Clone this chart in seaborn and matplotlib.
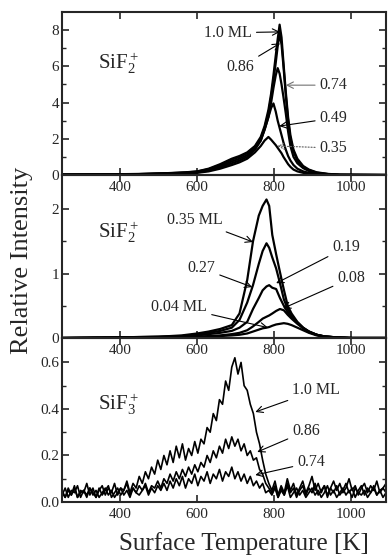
import numpy as np
import matplotlib
matplotlib.use('Agg')
import matplotlib.pyplot as plt
import seaborn as sns

# --- panel 1: SiF2+ , high coverages ---
t1 = [250, 350, 450, 520, 570, 600, 630, 660, 690, 710, 730, 750, 765, 775, 785, 792,
      798, 804, 809, 814, 819, 824, 830, 836, 842, 850, 860, 875, 890, 910, 940, 970, 1090]
p1_100 = [0.02, 0.03, 0.06, 0.10, 0.15, 0.20, 0.35, 0.60, 0.90, 1.05, 1.25, 1.60, 2.10, 2.70, 3.60, 4.50,
          5.50, 6.60, 7.50, 8.30, 7.60, 6.20, 4.60, 3.20, 2.20, 1.40, 0.90, 0.50, 0.30, 0.15, 0.06, 0.02, 0.0]
p1_086 = [0.02, 0.03, 0.05, 0.09, 0.14, 0.19, 0.32, 0.55, 0.85, 1.00, 1.20, 1.55, 2.00, 2.60, 3.40, 4.30,
          5.20, 6.20, 7.10, 7.80, 7.20, 6.00, 4.40, 3.00, 2.00, 1.30, 0.80, 0.45, 0.27, 0.13, 0.05, 0.02, 0.0]
p1_074 = [0.02, 0.03, 0.05, 0.08, 0.12, 0.17, 0.28, 0.48, 0.75, 0.90, 1.10, 1.45, 1.90, 2.50, 3.20, 4.00,
          4.80, 5.50, 5.90, 5.60, 5.00, 4.30, 3.40, 2.40, 1.60, 1.00, 0.65, 0.38, 0.22, 0.10, 0.04, 0.01, 0.0]
p1_049 = [0.02, 0.03, 0.04, 0.07, 0.10, 0.14, 0.24, 0.42, 0.65, 0.80, 1.00, 1.40, 1.90, 2.50, 3.20, 3.70,
          3.95, 3.50, 3.00, 2.60, 2.20, 1.80, 1.40, 1.05, 0.80, 0.55, 0.35, 0.20, 0.12, 0.06, 0.02, 0.0, 0.0]
p1_035 = [0.02, 0.03, 0.04, 0.06, 0.09, 0.12, 0.20, 0.35, 0.55, 0.70, 0.90, 1.25, 1.60, 1.90, 2.10, 1.95,
          1.80, 1.65, 1.50, 1.35, 1.20, 1.00, 0.80, 0.60, 0.45, 0.30, 0.20, 0.12, 0.07, 0.03, 0.01, 0.0, 0.0]

# --- panel 2: SiF2+ , low coverages ---
t2 = [250, 400, 500, 560, 600, 630, 660, 690, 710, 730, 745, 760, 770, 780, 787,
      795, 805, 815, 825, 835, 845, 860, 875, 890, 910, 930, 960, 1000, 1090]
p2_035 = [0.0, 0.01, 0.02, 0.04, 0.07, 0.10, 0.14, 0.20, 0.38, 0.90, 1.50, 1.90, 2.05, 2.15, 2.05,
          1.60, 1.30, 1.02, 0.75, 0.50, 0.38, 0.25, 0.16, 0.10, 0.05, 0.025, 0.01, 0.0, 0.0]
p2_027 = [0.0, 0.01, 0.02, 0.03, 0.05, 0.08, 0.11, 0.16, 0.28, 0.55, 0.82, 1.15, 1.35, 1.47, 1.40,
          1.25, 1.08, 0.85, 0.60, 0.45, 0.35, 0.24, 0.15, 0.09, 0.05, 0.02, 0.01, 0.0, 0.0]
p2_019 = [0.0, 0.01, 0.015, 0.02, 0.04, 0.06, 0.08, 0.11, 0.16, 0.25, 0.45, 0.62, 0.74, 0.80, 0.82,
          0.78, 0.76, 0.62, 0.50, 0.40, 0.32, 0.24, 0.16, 0.10, 0.05, 0.025, 0.01, 0.0, 0.0]
p2_008 = [0.0, 0.005, 0.01, 0.015, 0.02, 0.03, 0.04, 0.06, 0.08, 0.12, 0.18, 0.25, 0.30, 0.33, 0.35,
          0.38, 0.42, 0.45, 0.43, 0.36, 0.30, 0.22, 0.15, 0.10, 0.05, 0.025, 0.01, 0.0, 0.0]
p2_004 = [0.0, 0.0, 0.005, 0.01, 0.015, 0.02, 0.03, 0.04, 0.05, 0.07, 0.10, 0.13, 0.15, 0.16, 0.17,
          0.19, 0.21, 0.22, 0.23, 0.22, 0.20, 0.16, 0.12, 0.08, 0.04, 0.02, 0.01, 0.0, 0.0]

# --- panel 3: SiF3+ (noisy traces, 8 K sampling) ---
t3 = np.arange(250, 1091, 8)
p3_100 = [0.05, 0.02, 0.06, 0.03, 0.07, 0.02, 0.05, 0.04, 0.08, 0.03, 0.06, 0.02, 0.05, 0.07, 0.03, 0.06,
          0.04, 0.08, 0.03, 0.06, 0.05, 0.09, 0.04,
          0.08, 0.06, 0.11, 0.08, 0.13, 0.10, 0.15, 0.12, 0.18, 0.14, 0.20, 0.16, 0.22,
          0.17, 0.24, 0.19, 0.25, 0.18, 0.23, 0.20, 0.26, 0.21, 0.27,
          0.25, 0.32, 0.30, 0.38, 0.35, 0.44, 0.42, 0.52, 0.48, 0.58, 0.62,
          0.55, 0.60, 0.50, 0.48, 0.42, 0.38, 0.30, 0.25, 0.18, 0.12, 0.08,
          0.05, 0.09, 0.03, 0.07, 0.04, 0.10, 0.05, 0.08, 0.03, 0.06, 0.09, 0.04, 0.07, 0.11, 0.05, 0.08,
          0.04, 0.07, 0.03, 0.06, 0.09, 0.05, 0.08, 0.04, 0.06, 0.10, 0.05, 0.07, 0.03, 0.06, 0.08, 0.04,
          0.07, 0.05, 0.09, 0.04, 0.06, 0.08]
p3_086 = [0.03, 0.06, 0.02, 0.05, 0.04, 0.07, 0.02, 0.05, 0.03, 0.06, 0.04, 0.02, 0.06, 0.03, 0.05, 0.07,
          0.02, 0.04, 0.06, 0.03, 0.05, 0.08, 0.03, 0.06, 0.04, 0.07, 0.05, 0.08, 0.04, 0.07, 0.06,
          0.09, 0.06, 0.10, 0.08, 0.12, 0.09, 0.13, 0.10, 0.14, 0.11, 0.15, 0.12, 0.16, 0.13, 0.17,
          0.15, 0.20, 0.17, 0.22, 0.19, 0.24, 0.21, 0.27, 0.23, 0.28, 0.24, 0.27, 0.22,
          0.25, 0.20, 0.22, 0.18, 0.19, 0.14, 0.12, 0.08, 0.06,
          0.04, 0.07, 0.02, 0.06, 0.03, 0.08, 0.04, 0.06, 0.02, 0.05, 0.07, 0.03, 0.06, 0.04, 0.08, 0.03,
          0.05, 0.07, 0.02, 0.06, 0.04, 0.07, 0.03, 0.05, 0.08, 0.04, 0.06, 0.02, 0.05, 0.07, 0.03, 0.06,
          0.04, 0.07, 0.03, 0.05, 0.06, 0.04]
p3_074 = [0.04, 0.02, 0.05, 0.03, 0.06, 0.02, 0.04, 0.05, 0.02, 0.06, 0.03, 0.05, 0.02, 0.04, 0.06, 0.03,
          0.05, 0.02, 0.04, 0.06, 0.03, 0.05, 0.02, 0.06, 0.04, 0.03, 0.05, 0.07, 0.03, 0.06, 0.04, 0.07,
          0.05, 0.08,
          0.05, 0.09, 0.06, 0.10, 0.07, 0.11, 0.06, 0.10, 0.08, 0.12, 0.07, 0.11, 0.09, 0.13, 0.08, 0.12,
          0.10, 0.14, 0.09, 0.13, 0.11, 0.15, 0.10, 0.13,
          0.09, 0.12, 0.08, 0.11, 0.07, 0.09, 0.06, 0.08, 0.04, 0.05,
          0.03, 0.06, 0.02, 0.05, 0.03, 0.07, 0.02, 0.04, 0.06, 0.03, 0.05, 0.02, 0.04, 0.06, 0.03, 0.05,
          0.02, 0.04, 0.07, 0.03, 0.05, 0.02, 0.04, 0.06, 0.03, 0.05, 0.02, 0.06, 0.04, 0.03, 0.05, 0.02,
          0.04, 0.06, 0.03, 0.05, 0.02, 0.04]

sns.set_style('ticks')
plt.rcParams['font.family'] = ['Liberation Serif', 'DejaVu Serif']
plt.rcParams['mathtext.fontset'] = 'custom'
plt.rcParams['mathtext.rm'] = 'Liberation Serif'
plt.rcParams['mathtext.it'] = 'Liberation Serif:italic'

fig = plt.figure(figsize=(3.88, 5.57), dpi=100)
ax1 = fig.add_axes([0.160, 0.6858, 0.835, 0.2927])
ax2 = fig.add_axes([0.160, 0.3932, 0.835, 0.2926])
ax3 = fig.add_axes([0.160, 0.0987, 0.835, 0.2945])

for ys in [p1_100, p1_086, p1_074, p1_049, p1_035]:
    sns.lineplot(x=t1, y=ys, ax=ax1, color='k', lw=1.6)
for ys in [p2_035, p2_027, p2_019, p2_008, p2_004]:
    sns.lineplot(x=t2, y=ys, ax=ax2, color='k', lw=1.6)
for ys in [p3_100, p3_086, p3_074]:
    sns.lineplot(x=t3, y=ys, ax=ax3, color='k', lw=1.2)

ax1.set_ylim(0, 9)
ax1.set_yticks([0, 2, 4, 6, 8])
ax1.set_yticks([1, 3, 5, 7], minor=True)
ax2.set_ylim(0, 2.53)
ax2.set_yticks([0, 1, 2])
ax2.set_yticks([0.5, 1.5], minor=True)
ax3.set_ylim(0, 0.705)
ax3.set_yticks([0.0, 0.2, 0.4, 0.6])
ax3.set_yticklabels(['0.0', '0.2', '0.4', '0.6'])
ax3.set_yticks([0.1, 0.3, 0.5], minor=True)

for ax in [ax1, ax2, ax3]:
    ax.set_xlim(250, 1090)
    ax.set_xticks([400, 600, 800, 1000])
    ax.patch.set_alpha(0)
    ax.tick_params(direction='in', top=True, right=True, length=5, width=1.2,
                   labelsize=11, pad=4)
    ax.tick_params(axis='y', pad=2)
    ax.tick_params(which='minor', direction='in', right=True, length=3, width=1)
    for s in ax.spines.values():
        s.set_linewidth(1.5)

ax1.text(395, 6.15, r'SiF$_2^+$', fontsize=15, ha='center', va='center')
ax2.text(395, 1.64, r'SiF$_2^+$', fontsize=15, ha='center', va='center')
ax3.text(395, 0.42, r'SiF$_3^+$', fontsize=15, ha='center', va='center')

arrow = dict(arrowstyle='->', lw=0.8, color='k', shrinkA=1, shrinkB=0)
fs = 11.5
ax1.annotate('1.0 ML', xy=(815, 7.9), xytext=(742, 7.85), ha='right', va='center', fontsize=fs, arrowprops=arrow)
ax1.annotate('0.86', xy=(815, 7.27), xytext=(748, 5.95), ha='right', va='center', fontsize=fs, arrowprops=arrow)
ax1.annotate('0.74', xy=(830, 4.96), xytext=(918, 4.96), ha='left', va='center', fontsize=fs,
             arrowprops=dict(arrow, color='0.45'))
ax1.annotate('0.49', xy=(813, 2.7), xytext=(918, 3.14), ha='left', va='center', fontsize=fs, arrowprops=arrow)
ax1.annotate('0.35', xy=(808, 1.6), xytext=(918, 1.49), ha='left', va='center', fontsize=fs,
             arrowprops=dict(arrow, linestyle=':', color='0.35'))

ax2.annotate('0.35 ML', xy=(745, 1.49), xytext=(667, 1.83), ha='right', va='center', fontsize=fs, arrowprops=arrow)
ax2.annotate('0.27', xy=(743, 0.79), xytext=(647, 1.085), ha='right', va='center', fontsize=fs, arrowprops=arrow)
ax2.annotate('0.04 ML', xy=(784, 0.16), xytext=(626, 0.48), ha='right', va='center', fontsize=fs, arrowprops=arrow)
ax2.annotate('0.19', xy=(805, 0.85), xytext=(951, 1.41), ha='left', va='center', fontsize=fs, arrowprops=arrow)
ax2.annotate('0.08', xy=(823, 0.46), xytext=(964, 0.93), ha='left', va='center', fontsize=fs, arrowprops=arrow)

ax3.annotate('1.0 ML', xy=(751, 0.387), xytext=(847, 0.48), ha='left', va='center', fontsize=fs, arrowprops=arrow)
ax3.annotate('0.86', xy=(756, 0.215), xytext=(847, 0.305), ha='left', va='center', fontsize=fs, arrowprops=arrow)
ax3.annotate('0.74', xy=(751, 0.116), xytext=(860, 0.17), ha='left', va='center', fontsize=fs, arrowprops=arrow)

fig.text(0.057, 0.533, 'Relative Intensity', rotation=90, fontsize=19, ha='center', va='center')
fig.text(0.629, 0.025, 'Surface Temperature [K]', fontsize=18, ha='center', va='center')

fig.savefig('out.png', dpi=100)
